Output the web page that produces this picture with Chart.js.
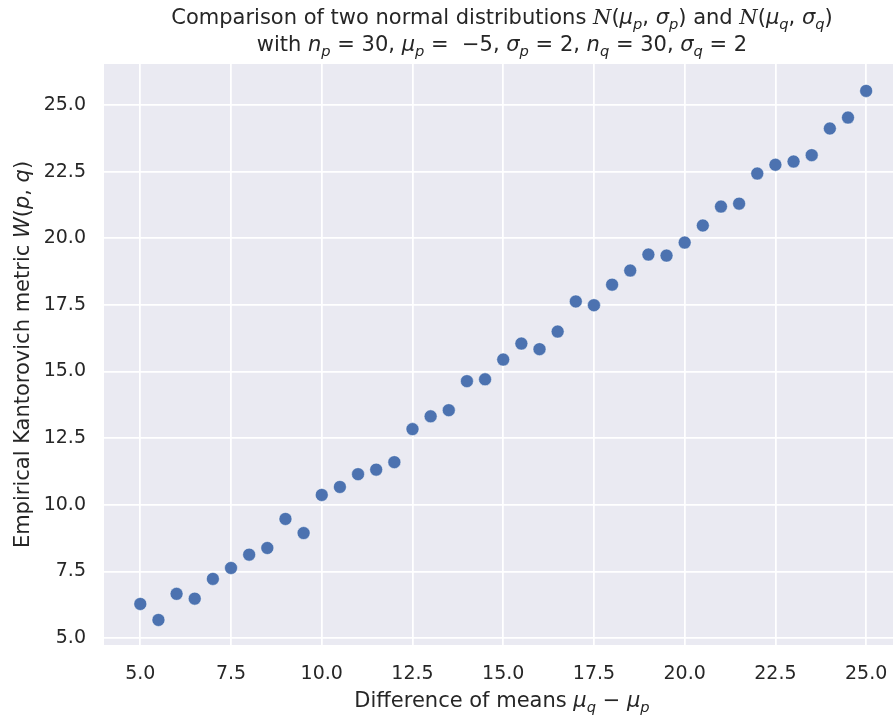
<!DOCTYPE html>
<html>
<head>
<meta charset="utf-8">
<script src="https://cdn.jsdelivr.net/npm/chart.js@4.4.0/dist/chart.umd.min.js"></script>
<style>
  html, body { margin: 0; padding: 0; background: #fff; }
  #wrap { width: 893px; height: 717px; }
</style>
</head>
<body>
<div id="wrap"><canvas id="chart" width="893" height="717"></canvas></div>
<script>
// differences of means (x) and measured Kantorovich distance (y)
const meanDiffs = [5, 5.5, 6, 6.5, 7, 7.5, 8, 8.5, 9, 9.5,
                   10, 10.5, 11, 11.5, 12, 12.5, 13, 13.5, 14, 14.5,
                   15, 15.5, 16, 16.5, 17, 17.5, 18, 18.5, 19, 19.5,
                   20, 20.5, 21, 21.5, 22, 22.5, 23, 23.5, 24, 24.5, 25];
const distances = [6.28, 5.68, 6.66, 6.48, 7.22, 7.63, 8.13, 8.38, 9.47, 8.94,
                   10.37, 10.67, 11.15, 11.32, 11.6, 12.84, 13.32, 13.55, 14.64, 14.71,
                   15.45, 16.05, 15.84, 16.5, 17.63, 17.49, 18.26, 18.79, 19.39, 19.35,
                   19.84, 20.48, 21.19, 21.3, 22.43, 22.76, 22.88, 23.12, 24.12, 24.53, 25.53];
const xTicks = [5, 7.5, 10, 12.5, 15, 17.5, 20, 22.5, 25];
const yTicks = [5, 7.5, 10, 12.5, 15, 17.5, 20, 22.5, 25];

const textColor = "#262626";
const fam = '"DejaVu Sans", sans-serif';

// small helpers to write mathtext-like labels
const n = t => ({ t });
const it = t => ({ t, i: true });
const sub = t => ({ t, i: true, sub: true });
const cal = t => ({ t, cal: true });

const titleLine1 = [n("Comparison of two normal distributions "), cal("N"), n("("), it("μ"), sub("p"), n(", "), it("σ"), sub("p"), n(") and "),
                    cal("N"), n("("), it("μ"), sub("q"), n(", "), it("σ"), sub("q"), n(")")];
const titleLine2 = [n("with "), it("n"), sub("p"), n(" = 30, "), it("μ"), sub("p"), n(" =  −5, "), it("σ"), sub("p"), n(" = 2, "),
                    it("n"), sub("q"), n(" = 30, "), it("σ"), sub("q"), n(" = 2")];
const xLabel = [n("Difference of means "), it("μ"), sub("q"), n(" − "), it("μ"), sub("p")];
const yLabel = [n("Empirical Kantorovich metric "), it("W"), n("("), it("p"), n(", "), it("q"), n(")")];

function segFont(s, size) {
  if (s.cal) return "italic " + size + 'px "DejaVu Serif", serif';
  const sz = s.sub ? size * 0.7 : size;
  return (s.i ? "oblique " : "") + sz + "px " + fam;
}

function drawRich(ctx, segs, cx, y, size) {
  let w = 0;
  segs.forEach(s => { ctx.font = segFont(s, size); w += ctx.measureText(s.t).width; });
  let x = cx - w / 2;
  ctx.textAlign = "left";
  ctx.textBaseline = "alphabetic";
  ctx.fillStyle = textColor;
  segs.forEach(s => {
    ctx.font = segFont(s, size);
    ctx.fillText(s.t, x, s.sub ? y + size * 0.22 : y);
    x += ctx.measureText(s.t).width;
  });
}

const textPlugin = {
  id: "richText",
  beforeDraw(chart) {
    const { ctx, chartArea: a } = chart;
    ctx.save();
    ctx.fillStyle = "#EAEAF2";
    ctx.fillRect(a.left, a.top, a.right - a.left, a.bottom - a.top);
    ctx.restore();
  },
  afterDraw(chart) {
    const { ctx, chartArea: a } = chart;
    ctx.save();
    drawRich(ctx, titleLine1, 502, 24, 21);
    drawRich(ctx, titleLine2, 502, 51, 21);
    drawRich(ctx, xLabel, 502, 707, 21);
    ctx.translate(29, (a.top + a.bottom) / 2);
    ctx.rotate(-Math.PI / 2);
    drawRich(ctx, yLabel, 0, 0, 21);
    ctx.restore();
  }
};

const tickFont = { family: fam, size: 19 };

new Chart(document.getElementById("chart"), {
  type: "scatter",
  data: {
    datasets: [{
      data: meanDiffs.map((x, i) => ({ x, y: distances[i] })),
      backgroundColor: "#4C72B0",
      borderColor: "#ffffff",
      borderWidth: 0.5,
      pointRadius: 6.5
    }]
  },
  options: {
    responsive: false,
    animation: false,
    events: [],
    devicePixelRatio: 1,
    layout: { autoPadding: false, padding: { top: 64, right: 0, left: 0, bottom: 0 } },
    plugins: { legend: { display: false }, tooltip: { enabled: false } },
    scales: {
      x: {
        type: "linear",
        min: 4,
        max: 25.74,
        afterBuildTicks: s => { s.ticks = xTicks.map(v => ({ value: v })); },
        afterFit: s => { s.height = 72; s.paddingLeft = 0; s.paddingRight = 0; },
        border: { display: false },
        grid: { color: "#ffffff", lineWidth: 1.75, drawTicks: false },
        ticks: { font: tickFont, color: textColor, padding: 18, callback: v => v.toFixed(1) }
      },
      y: {
        min: 4.74,
        max: 26.54,
        afterBuildTicks: s => { s.ticks = yTicks.map(v => ({ value: v })); },
        afterFit: s => { s.width = 104; s.paddingTop = 0; s.paddingBottom = 0; },
        border: { display: false },
        grid: { color: "#ffffff", lineWidth: 1.75, drawTicks: false },
        ticks: { font: tickFont, color: textColor, padding: 18, callback: v => v.toFixed(1) }
      }
    }
  },
  plugins: [textPlugin]
});
</script>
</body>
</html>
